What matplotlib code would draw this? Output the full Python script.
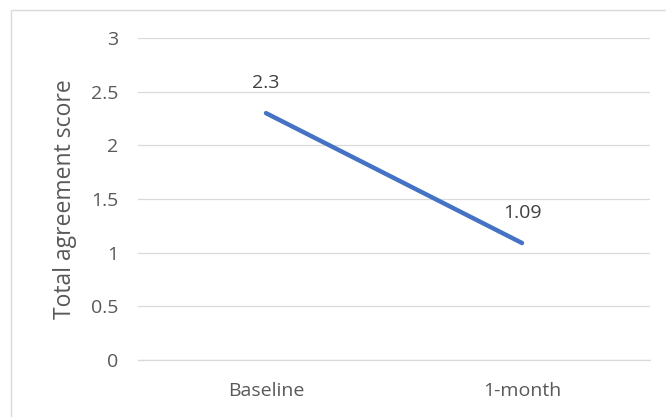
import matplotlib.pyplot as plt
from matplotlib.patches import Rectangle

plt.rcParams['font.family'] = ['Open Sans', 'DejaVu Sans']

# data
categories = ['Baseline', '1-month']
scores = [2.3, 1.09]
score_labels = ['2.3', '1.09']
y_ticks = [0, 0.5, 1, 1.5, 2, 2.5, 3]
y_tick_labels = ['0', '0.5', '1', '1.5', '2', '2.5', '3']

text_gray = '#595959'
line_blue = '#4472C4'

fig = plt.figure(figsize=(6.66, 4.17), dpi=100)
ax = fig.add_axes([138 / 666, 1 - 360 / 417, 512 / 666, 322 / 417])

x = list(range(len(categories)))
ax.plot(x, scores, color=line_blue, linewidth=3.2, solid_capstyle='round')

for xi, yi, lab in zip(x, scores, score_labels):
    ax.annotate(lab, (xi, yi), xytext=(0, 15), textcoords='offset points',
                ha='center', va='bottom', fontsize=14, color='#404040')

ax.set_xlim(-0.5, len(categories) - 0.5)
ax.set_ylim(0, 3)
ax.set_xticks(x)
ax.set_xticklabels(categories)
ax.set_yticks(y_ticks)
ax.set_yticklabels(y_tick_labels)
ax.tick_params(axis='both', length=0, labelsize=14, labelcolor=text_gray)
ax.tick_params(axis='y', pad=14)
ax.tick_params(axis='x', pad=16)

ax.yaxis.grid(True, color='#D9D9D9', linewidth=0.9)
ax.set_axisbelow(True)
for side in ['top', 'right', 'left']:
    ax.spines[side].set_visible(False)
ax.spines['bottom'].set_color('#D9D9D9')
ax.spines['bottom'].set_linewidth(0.9)

ax.set_ylabel('Total agreement score', fontsize=16.5, color=text_gray, labelpad=10)

# outer chart border (right and bottom edges fall outside the picture)
fig.patches.append(Rectangle((11 / 666, -0.05), 1.1, 1 - 10 / 417 + 0.05,
                             transform=fig.transFigure, fill=False,
                             edgecolor='#D9D9D9', linewidth=1))

fig.savefig('out.png', dpi=100)
